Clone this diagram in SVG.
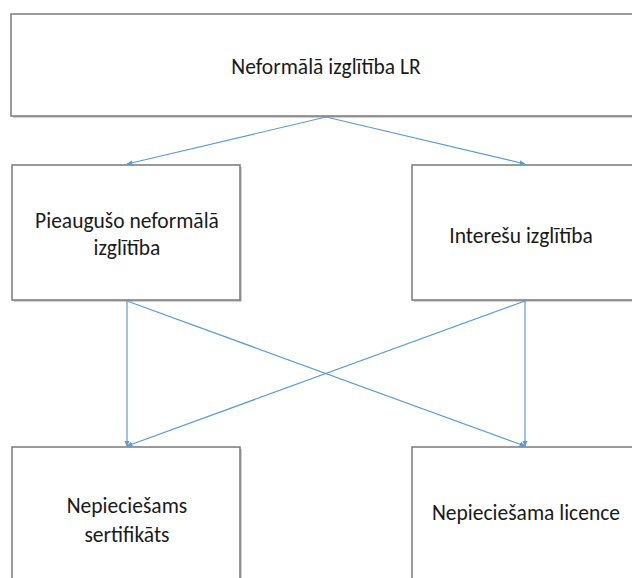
<svg xmlns="http://www.w3.org/2000/svg" width="632" height="578" viewBox="0 0 632 578">
  <style>
    .box { fill: #ffffff; stroke: #7a7a7a; stroke-width: 1.5; }
    .shadow { fill: #cfcfcf; }
    .label { font-family: Carlito, Lato, "Liberation Sans", sans-serif; font-size: 21.5px; fill: #1a1a1a; text-anchor: middle; }
    .link { stroke: #5b9bd5; stroke-width: 1.2; fill: none; marker-end: url(#arrow); }
  </style>
  <defs>
    <!-- small filled arrowhead used by all connectors -->
    <marker id="arrow" viewBox="0 0 10 10" refX="9" refY="5" markerWidth="6" markerHeight="6" orient="auto" markerUnits="userSpaceOnUse">
      <path d="M0,0.5 L10,5 L0,9.5 z" fill="#5b9bd5"/>
    </marker>
  </defs>
  <rect width="632" height="578" fill="#ffffff"/>

  <g id="node-top">
    <rect class="shadow" x="13" y="16" width="622" height="102"/>
    <rect class="box" x="11" y="14" width="622" height="102"/>
    <text class="label" x="326" y="74">Neformālā izglītība LR</text>
  </g>

  <g id="node-adult">
    <rect class="shadow" x="14" y="167" width="228" height="135"/>
    <rect class="box" x="12" y="165" width="228" height="135"/>
    <text class="label" x="127" y="228">Pieaugušo neformālā</text>
    <text class="label" x="127" y="255">izglītība</text>
  </g>

  <g id="node-interest">
    <rect class="shadow" x="414" y="167" width="228" height="135"/>
    <rect class="box" x="412" y="165" width="228" height="135"/>
    <text class="label" x="521" y="243">Interešu izglītība</text>
  </g>

  <g id="node-cert">
    <rect class="shadow" x="14" y="449" width="228" height="140"/>
    <rect class="box" x="12" y="447" width="228" height="140"/>
    <text class="label" x="127" y="513">Nepieciešams</text>
    <text class="label" x="127" y="542">sertifikāts</text>
  </g>

  <g id="node-licence">
    <rect class="shadow" x="414" y="449" width="228" height="140"/>
    <rect class="box" x="412" y="447" width="228" height="140"/>
    <text class="label" x="526" y="520">Nepieciešama licence</text>
  </g>

  <g id="connectors">
    <line class="link" x1="326" y1="117" x2="127" y2="164"/>
    <line class="link" x1="326" y1="117" x2="525" y2="164"/>
    <line class="link" x1="127" y1="301" x2="127" y2="446"/>
    <line class="link" x1="127" y1="301" x2="525" y2="446"/>
    <line class="link" x1="525" y1="301" x2="525" y2="446"/>
    <line class="link" x1="525" y1="301" x2="127" y2="446"/>
  </g>
</svg>
